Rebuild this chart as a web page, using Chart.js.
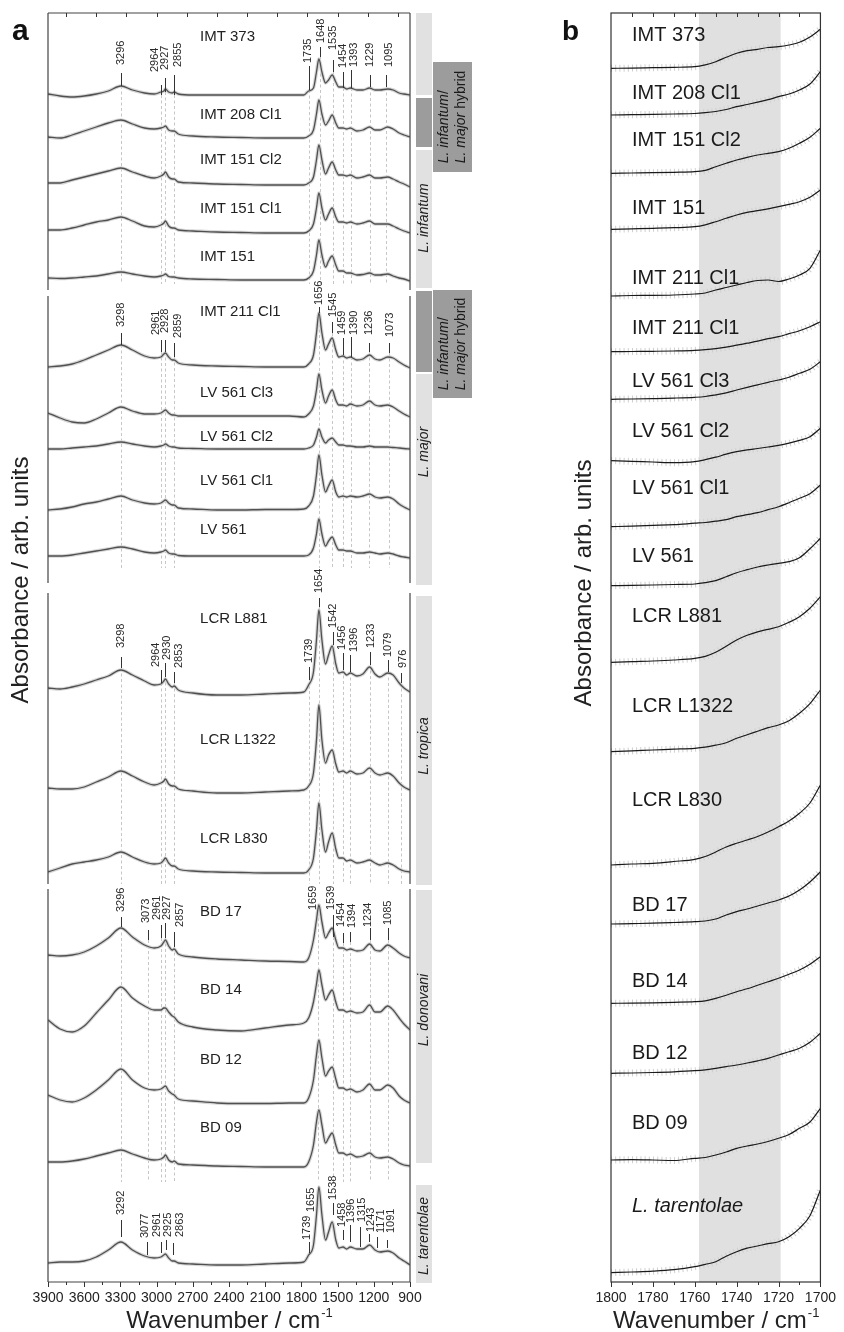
<!DOCTYPE html>
<html><head><meta charset="utf-8">
<script src="https://cdn.jsdelivr.net/npm/chart.js@4.4.1/dist/chart.umd.min.js"></script>
<style>
html,body{margin:0;padding:0;background:#fff;width:844px;height:1332px;overflow:hidden}
#wa{position:absolute;left:0;top:0;width:540px;height:1332px}
#wb{position:absolute;left:540px;top:0;width:304px;height:1332px}
</style></head><body>
<div id="wa"><canvas id="ca"></canvas></div>
<div id="wb"><canvas id="cb"></canvas></div>
<script>
const FONT = '"Liberation Sans", Arial, Helvetica, sans-serif';

// ================= Panel a : data =================
const wavenumbersA = [3900,3800,3700,3600,3500,3400,3296,3200,3100,3020,2964,2940,2927,2900,2870,2855,2820,2700,2500,2300,2100,1900,1780,1740,1700,1675,1655,1630,1600,1575,1545,1515,1490,1455,1425,1395,1340,1290,1235,1190,1150,1085,1040,990,950,900];
const namesA = ['IMT 373','IMT 208 Cl1','IMT 151 Cl2','IMT 151 Cl1','IMT 151','IMT 211 Cl1','LV 561 Cl3','LV 561 Cl2','LV 561 Cl1','LV 561','LCR L881','LCR L1322','LCR L830','BD 17','BD 14','BD 12','BD 09','L. tarentolae'];
const offsetsA = [1187,1144,1097,1049,1002,915,865,833,773,726,590,492,409,320,259,179,115,20];

const a_IMT373   = [1,-1,-2,-1,1,4,9,5,2,1,3,4,6,3,2,3,1,0,0,0,0,0,0,4,7,23,36,23,12,15,20,13,8,8,6,7,5,5,7,5,5,6,5,2,1,0];
const a_IMT208C1 = [1,0,3,7,11,15,18,14,10,9,10,11,12,8,7,7,4,2,1,0.5,0,0,0,2,8,24,38,24,13,17,23,15,10,10,9,10,7,8,11,8,8,11,9,5,3,1];
const a_IMT151C2 = [2,2,5,8,11,14,17,13,9,7,9,11,13,8,6,6,3,2,1,0.5,0,0,0,2,8,25,40,25,11,17,23,15,10,10,9,10,7,8,10,7,7,8,6,3,1,-2];
const a_IMT151C1 = [3,3,5,8,11,13,16,12,7,6,8,10,12,7,5,5,3,2,1,0.5,0,0,0,2,9,25,40,25,13,19,25,16,11,11,10,11,9,10,12,9,9,9,7,4,2,0];
const a_IMT151   = [2,1.5,2,3,4,6,8,6,4,3,4,5,6,3.5,3,3,2,1,0.5,0,0,0,0,2,9,25,40,25,13,19,24,15,9,9,7,7,5,5.5,7,5,5,6,4,2,1,-1];
const a_IMT211C1 = [0,1,3,7,12,17,22,17,11,9,10,13,14,10,7,7,4,2,1,0.5,0,0,0,3,12,34,54,34,17,23,29,17,10,11,9,10,7,8,12,8,7,10,9,5,2,-1];
const a_LV561C3  = [4,-1,-5,-6,-2,4,10,6,3,3,4,6,7,4,2,2,1,1,1,1,1,1,0,3,11,27,43,27,14,21,27,17,12,12,11,13,11,12,16,12,11,12,10,6,3,0];
const a_LV561C2  = [0,0,1,2,3,5,7,5,3,2,3,4,5,3,2,2,1,0.5,0,0,0,0,0,1,4,12,20,12,6,9,11,7,4,4,3,3,2,2,3,2,2,2,1.5,1,0.5,0];
const a_LV561C1  = [-1,0,2,5,7,10,13,9,6,5,6,8,9,6,4,4,1,0,-1,-1,-0.5,-0.5,0,3,13,34,54,34,17,23,29,17,12,13,12,13,12,13,15,12,11,12,10,5,2,-1];
const a_LV561    = [0,0,1,3,5,7,9,7,4,3,4,5,6,3,2,2,0.5,0,0,0,0,0,0,1,8,22,37,22,10,15,19,11,6,6,5,5,3,3,4,3,2,3,2,0,-1,-2];
const a_LCRL881  = [4,3,5,8,12,16,22,17,11,7,8,11,13,8,5,6,2,-1,-3,-3,-2,-1,0,7,20,52,82,52,28,37,46,28,19,20,17,19,16,18,25,18,15,19,17,9,4,0];
const a_LCRL1322 = [2,1,1,3,8,13,19,14,8,5,7,9,11,6,4,4,1,-1,-3,-3,-2,-1,0,4,17,50,85,50,27,35,40,26,18,19,17,19,16,17,22,17,15,17,14,7,3,0];
const a_LCRL830  = [1,5,9,11,13,16,21,16,11,9,10,13,15,10,7,7,4,2,1,0.5,0,0,0,3,15,43,70,43,21,31,40,24,15,15,12,13,10,11,13,10,8,10,8,4,2,1];
const a_BD17     = [7,6,7,10,16,24,34,25,17,14,16,20,22,16,12,13,8,5,3,2,1,0.5,0,4,22,42,57,40,24,29,34,22,14,14,12,13,11,12,18,12,11,17,14,9,6,4];
const a_BD14     = [3,-6,-9,-3,10,23,36,25,17,13,13,15,15,11,7,6,1,-4,-7,-8,-5,-2,0,5,21,39,53,38,23,28,33,21,13,13,11,12,10,11,18,11,11,17,13,5,-1,-7];
const a_BD12     = [8,3,1,5,13,23,34,23,15,13,14,16,17,12,9,8,4,2,0,-0.5,-0.5,0,0,5,23,48,63,45,27,32,36,24,15,15,13,14,11,13,19,13,13,18,15,7,3,0];
const a_BD09     = [5,5,6,8,11,14,17,13,9,7,8,10,12,7,5,6,3,2,1,0.5,0,0,0,5,22,45,57,42,24,29,34,22,14,14,12,13,10,11,14,10,9,10,8,4,2,1];
const a_LTar     = [-1,0,0,1,5,12,20,12,6,4,5,7,8,4,1,1,-1,-2,-3,-3,-2,-1,0,7,17,47,75,47,22,30,40,22,14,15,13,15,13,13,17,12,10,11,9,4,1,-3];
const seriesA = [a_IMT373,a_IMT208C1,a_IMT151C2,a_IMT151C1,a_IMT151,a_IMT211C1,a_LV561C3,a_LV561C2,a_LV561C1,a_LV561,a_LCRL881,a_LCRL1322,a_LCRL830,a_BD17,a_BD14,a_BD12,a_BD09,a_LTar];

const xTickLabelsA = [3900,3600,3300,3000,2700,2400,2100,1800,1500,1200,900];
const topTicksA = [3750,3500,3250,3000,2750,2500,2250,2000,1750,1500,1250,1000];

// annotated band positions per group (cm-1)
const peaks1 = [3296,2964,2927,2855,1735,1648,1535,1454,1393,1229,1095];
const peaks2 = [3298,2961,2928,2859,1656,1545,1459,1390,1236,1073];
const peaks3 = [3298,2964,2930,2853,1739,1654,1542,1456,1396,1233,1079,976];
const peaks4 = [3296,3073,2961,2927,2857,1659,1539,1454,1394,1234,1085];
const peaks5 = [3292,3077,2961,2925,2863,1739,1655,1538,1458,1396,1315,1243,1171,1091];

// ================= Panel b : data =================
const wavenumbersB = [1800,1790,1780,1770,1760,1755,1750,1745,1740,1735,1730,1725,1720,1715,1710,1705,1700];
const namesB = ['IMT 373','IMT 208 Cl1','IMT 151 Cl2','IMT 151','IMT 211 Cl1','IMT 211 Cl1','LV 561 Cl3','LV 561 Cl2','LV 561 Cl1','LV 561','LCR L881','LCR L1322','LCR L830','BD 17','BD 14','BD 12','BD 09','L. tarentolae'];
const offsetsB = [1213.7,1167,1108.7,1052.7,986,930.3,882.7,821.3,755.3,696.3,619.7,530.3,417,358,278.7,208.7,122,9.3];
const b_IMT373   = [0,0.2,0.6,1,1.6,3.5,6.6,11,15,17.6,19,20.8,21.6,23.3,26,31.3,39];
const b_IMT208C1 = [0,0.3,0.6,1,1.5,2.3,3.5,5.5,8.3,10.5,12.8,15.3,18.3,21,25,31,43.3];
const b_IMT151C2 = [0,0.3,0.6,1,1.6,3,6.6,10,13.3,16,18.3,20,21.6,25,30,36,45];
const b_IMT151   = [0,0.5,1,1.6,2.6,4.5,7.6,11,14.3,17,18.6,20.5,22.6,25,27.6,32,39.3];
const b_IMT211C1 = [0,0.5,0.6,1,2,3,6,8.5,11,13.5,15.5,16,14.5,17,21,27.7,46];
const b_IMT211C1b= [0,0.2,0.4,0.7,1.3,2,3,4.5,6.5,8.5,10.5,13,15,18,21,25,30];
const b_LV561C3  = [0,0.3,0.7,1.2,2,2.8,4.5,6.5,9.3,12,14.5,17,19.3,22,26,30,37.6];
const b_LV561C2  = [0,-0.7,-1.3,-2,-1,1,3.5,6.5,9,10.8,12.2,13.7,15.3,17.5,20.3,24,32.4];
const b_LV561C1  = [0,0.6,1.3,2,3.5,4.2,5.5,7,10,12,14,17,20,24,28.4,33,41.7];
const b_LV561    = [0,0.3,0.7,1.2,1.7,3,5,9,13,16,18.7,20.7,22.4,24,28,37,47.4];
const b_LCRL881  = [0,0.7,1.3,2.3,4,6,10,16,22.3,27,30.5,33,35.6,40,45.6,54,65.6];
const b_LCRL1322 = [0,0.8,1.7,2.5,3.4,4.5,6.5,9,13.4,17,20.5,24,26.7,31,38.4,48,61.7];
const b_LCRL830  = [0,1,1.7,3.5,5.7,8.5,13,18,21.7,25,28.5,33,38.3,44,51.7,62,80];
const b_BD17     = [0,0.4,0.8,1.5,2.3,3,5,9,12.3,15,18,21,24,28,34,42,52.3];
const b_BD14     = [0,0.2,0.5,1,1.6,2.5,5,8,11.6,14.5,18,21.5,25,29,33.3,39,46.6];
const b_BD12     = [0,0.3,0.8,1.5,2.6,3.5,5,6.7,8.3,10.3,12.5,15,18.3,21.5,25,31,40];
const b_BD09     = [0,0.3,0,-0.5,1.7,2.5,5,8,11.7,14,16,18.5,21.7,25.5,31.7,38,51.7];
const b_LTar     = [0,0.7,1.5,3,6,8.3,11,16.5,21,24.5,26.7,29,31,36,44.4,57,82.7];
const seriesB = [b_IMT373,b_IMT208C1,b_IMT151C2,b_IMT151,b_IMT211C1,b_IMT211C1b,b_LV561C3,b_LV561C2,b_LV561C1,b_LV561,b_LCRL881,b_LCRL1322,b_LCRL830,b_BD17,b_BD14,b_BD12,b_BD09,b_LTar];
const xTickLabelsB = [1800,1780,1760,1740,1720,1700];
const highlightB = [1758,1719];

// ================= layout (positions / styles) =================
const nameAnchorA = 2640, nameAnchorB = 1790;
const nameYA = [37,115,160,209,257,312,393,437,481,530,619,740,839,912,990,1060,1128,null];
const nameYB = [35,93,140,208,278,328,381.7,431.7,488.3,556.7,616.7,706.7,800,905,981.7,1053.3,1123.3,1206.7];
// per peak: [dx, textBottomY, tickTopY, tickBottomY]
const peakLayout = [
 {peaks:peaks1, bottom:284, pos:[[0,65,73,86],[-6,72,85,95],[0,70,78,92],[4,67,75,95],[-1,63,66,90],[1,43,47,57],[0,50,60,72],[0,68,72,88],[3.5,67,70,88],[0,67,75,87],[2,67,75,87]]},
 {peaks:peaks2, bottom:568, pos:[[0,327,333,345],[-5,335,340,352],[0,333,340,352],[4,338,343,357],[0,305,307,313],[1,317,322,333],[-1,335,338,355],[3,335,337,357],[0,335,343,352],[1,337,343,353]]},
 {peaks:peaks3, bottom:884, pos:[[0,648,657,668],[-5,667,670,683],[1.5,660,663,677],[4.5,668,672,683],[0,663,667,680],[0,593,598,607],[0,628,632,645],[-1,650,653,670],[4,652,655,672],[1,648,652,665],[0,657,660,672],[2,668,673,683]]},
 {peaks:peaks4, bottom:1182, pos:[[0,912,917,927],[-2,923,930,940],[-4,920,925,938],[1.5,920,923,938],[6,927,932,947],[-5,910,907,907],[-2,910,915,937],[-2,927,933,943],[2,928,932,942],[-1.5,927,928,940],[0,925,928,940]]},
 {peaks:peaks5, bottom:null, pos:[[0,1215,1220,1237],[-2,1238,1242,1255],[-4,1237,1242,1253],[2,1237,1240,1250],[7,1237,1243,1255],[-2,1240,1242,1253],[-8,1212,null,null],[0,1200,1203,1215],[-1,1227,1230,1240],[1,1223,1225,1242],[2,1222,1227,1247],[2.5,1232,1234,1242],[4,1233,1237,1248],[4.5,1233,1240,1248]]}
];
const frameSegA = [[13,290],[296,583],[593,884],[889,1282]];
const LIGHT = '#e1e1e1', DARK = '#9c9c9c';
const boxesA = [
 [416,432,13,95,LIGHT],
 [416,432,98,147,DARK],[433,472,62,172,DARK],
 [416,432,150,288,LIGHT],
 [416,432,291,372,DARK],[433,472,290,398,DARK],
 [416,432,374,585,LIGHT],
 [416,432,596,885,LIGHT],
 [416,432,890,1163,LIGHT],
 [416,432,1185,1283,LIGHT]
];
const speciesA = [
 [[['L. infantum',true]],424,218],
 [[['L. major',true]],424,452],
 [[['L. tropica',true]],424,746],
 [[['L. donovani',true]],424,1010],
 [[['L. tarentolae',true]],424,1236]
];
const hybridA = [[62,172],[290,398]];

// ================= helpers =================
function rotText(ctx, parts, x, y, size, align, color){
  ctx.save();
  ctx.translate(x,y); ctx.rotate(-Math.PI/2);
  ctx.fillStyle = color || '#222';
  ctx.textBaseline='middle'; ctx.textAlign='left';
  let total=0;
  parts.forEach(p=>{ctx.font=(p[1]?'italic ':'')+size+'px '+FONT; total+=ctx.measureText(p[0]).width;});
  let pos = align==='center' ? -total/2 : 0;
  parts.forEach(p=>{ctx.font=(p[1]?'italic ':'')+size+'px '+FONT; ctx.fillText(p[0],pos,0); pos+=ctx.measureText(p[0]).width;});
  ctx.restore();
  return total;
}
function partsWidth(ctx, parts, size){
  let t=0; parts.forEach(p=>{ctx.font=(p[1]?'italic ':'')+size+'px '+FONT; t+=ctx.measureText(p[0]).width;}); return t;
}
function xTitle(ctx, cx, baseY){
  ctx.save(); ctx.fillStyle='#222'; ctx.textBaseline='alphabetic'; ctx.textAlign='left';
  const main='Wavenumber / cm', sup='-1';
  ctx.font='24px '+FONT; const w1=ctx.measureText(main).width;
  ctx.font='13px '+FONT; const w2=ctx.measureText(sup).width;
  const x0=cx-(w1+w2)/2;
  ctx.font='24px '+FONT; ctx.fillText(main,x0,baseY);
  ctx.font='13px '+FONT; ctx.fillText(sup,x0+w1+1,baseY-11);
  ctx.restore();
}
function drawTicks(ctx, x, ca, from, to, step, majorEvery, topVals, topLen){
  ctx.save(); ctx.strokeStyle='#333'; ctx.lineWidth=1; ctx.beginPath();
  for(let v=from; v<=to+1e-6; v+=step){
    const px=Math.round(x.getPixelForValue(v))+0.5;
    const len = (Math.abs(v % majorEvery) < 1e-6) ? 5 : 3;
    ctx.moveTo(px, ca.bottom); ctx.lineTo(px, ca.bottom+len);
  }
  topVals.forEach(v=>{const px=Math.round(x.getPixelForValue(v))+0.5; ctx.moveTo(px,ca.top); ctx.lineTo(px,ca.top+topLen);});
  ctx.stroke(); ctx.restore();
}

// ================= panel a plugin =================
const panelA = {
  id:'panelA',
  beforeDatasetsDraw(chart){
    const {ctx, scales:{x}} = chart;
    ctx.save(); ctx.strokeStyle='#b8b8b8'; ctx.lineWidth=0.8; ctx.setLineDash([3,2.5]);
    peakLayout.forEach(g=>{
      if(g.bottom==null) return;
      g.peaks.forEach((w,i)=>{
        const p=g.pos[i]; const px=Math.round(x.getPixelForValue(w))+0.5;
        const y0 = p[3]!=null ? p[3] : p[1];
        ctx.beginPath(); ctx.moveTo(px,y0); ctx.lineTo(px,g.bottom); ctx.stroke();
      });
    });
    ctx.restore();
  },
  afterDatasetsDraw(chart){
    const {ctx, chartArea:ca, scales:{x}} = chart;
    ctx.save(); ctx.strokeStyle='#444'; ctx.lineWidth=1.2;
    ctx.beginPath();
    frameSegA.forEach(s=>{ ctx.moveTo(ca.left,s[0]); ctx.lineTo(ca.left,s[1]); ctx.moveTo(ca.right,s[0]); ctx.lineTo(ca.right,s[1]); });
    ctx.moveTo(ca.left,ca.top); ctx.lineTo(ca.right,ca.top);
    ctx.moveTo(ca.left,ca.bottom); ctx.lineTo(ca.right,ca.bottom);
    ctx.stroke(); ctx.restore();
    drawTicks(ctx, x, ca, 900, 3900, 150, 300, topTicksA, 4);
    ctx.save(); ctx.strokeStyle='#333'; ctx.lineWidth=1;
    peakLayout.forEach(g=>{
      g.peaks.forEach((w,i)=>{
        const p=g.pos[i]; const px=x.getPixelForValue(w);
        rotText(ctx, [[String(w),false]], px+p[0], p[1], 11, 'left', '#2a2a2a');
        if(p[2]!=null && p[3]>p[2]){ ctx.beginPath(); ctx.moveTo(Math.round(px)+0.5,p[2]); ctx.lineTo(Math.round(px)+0.5,p[3]); ctx.stroke(); }
      });
    });
    ctx.restore();
    ctx.save(); ctx.fillStyle='#222'; ctx.font='15px '+FONT; ctx.textBaseline='middle'; ctx.textAlign='left';
    const nx = x.getPixelForValue(nameAnchorA);
    namesA.forEach((n,i)=>{ if(nameYA[i]!=null) ctx.fillText(n, nx, nameYA[i]); });
    ctx.restore();
    ctx.save();
    boxesA.forEach(b=>{ ctx.fillStyle=b[4]; ctx.fillRect(b[0],b[2],b[1]-b[0],b[3]-b[2]); });
    ctx.restore();
    speciesA.forEach(s=>rotText(ctx, s[0], s[1], s[2], 14, 'center', '#222'));
    hybridA.forEach(h=>{
      const l1=[['L. infantum',true],['/',false]], l2=[['L. major',true],[' hybrid',false]];
      const w2=partsWidth(ctx,l2,14); const c=(h[0]+h[1])/2; const start=c+w2/2;
      rotText(ctx,l1,444,start,14,'left','#1a1a1a');
      rotText(ctx,l2,461,start,14,'left','#1a1a1a');
    });
    xTitle(ctx,(ca.left+ca.right)/2,1328);
    rotText(ctx,[['Absorbance / arb. units',false]],21,580,24,'center','#222');
    ctx.save(); ctx.fillStyle='#111'; ctx.font='bold 30px '+FONT; ctx.textBaseline='alphabetic'; ctx.fillText('a',12,40); ctx.restore();
  }
};

// ================= panel b plugin =================
const panelB = {
  id:'panelB',
  beforeDatasetsDraw(chart){
    const {ctx, chartArea:ca, scales:{x}} = chart;
    const x0=x.getPixelForValue(highlightB[0]), x1=x.getPixelForValue(highlightB[1]);
    ctx.save(); ctx.fillStyle='#e0e0e0'; ctx.fillRect(x0,ca.top,x1-x0,ca.bottom-ca.top); ctx.restore();
  },
  afterDatasetsDraw(chart){
    const {ctx, chartArea:ca, scales:{x}} = chart;
    ctx.save(); ctx.strokeStyle='#333'; ctx.lineWidth=1.2;
    ctx.strokeRect(ca.left,ca.top,ca.right-ca.left,ca.bottom-ca.top);
    ctx.restore();
    const top=[]; for(let v=1790; v>=1710; v-=10) top.push(v);
    drawTicks(ctx, x, ca, 1700, 1800, 10, 20, top, 4);
    ctx.save(); ctx.fillStyle='#1a1a1a'; ctx.textBaseline='middle'; ctx.textAlign='left';
    const nx=x.getPixelForValue(nameAnchorB);
    namesB.forEach((n,i)=>{ ctx.font=(n.startsWith('L.')?'italic ':'')+'20px '+FONT; ctx.fillText(n,nx,nameYB[i]); });
    ctx.restore();
    xTitle(ctx,(ca.left+ca.right)/2,1328);
    rotText(ctx,[['Absorbance / arb. units',false]],44,583,24,'center','#222');
    ctx.save(); ctx.fillStyle='#111'; ctx.font='bold 28px '+FONT; ctx.textBaseline='alphabetic'; ctx.fillText('b',22,40); ctx.restore();
  }
};

// ================= datasets =================
const dsA=[];
seriesA.forEach((vals,i)=>{
  const mk=()=>wavenumbersA.map((w,k)=>({x:w,y:offsetsA[i]+vals[k]}));
  dsA.push({label:namesA[i],data:mk(),borderColor:'#505050',borderWidth:1.3,order:0,pointRadius:0,fill:false});
  dsA.push({label:namesA[i]+' SD',data:mk(),borderColor:'#d6d6d6',borderWidth:3.5,order:1,pointRadius:0,fill:false});
});
const dsB=[];
seriesB.forEach((vals,i)=>{
  const mk=()=>wavenumbersB.map((w,k)=>({x:w,y:offsetsB[i]+vals[k]}));
  dsB.push({label:namesB[i],data:mk(),borderColor:'#1a1a1a',borderWidth:1.2,order:0,pointRadius:0,fill:false});
  dsB.push({label:namesB[i]+' SD',data:mk(),borderColor:'#cfcfcf',borderWidth:7,borderDash:[1,3.2],order:1,pointRadius:0,fill:false});
});

function baseOptions(min,max,ticks,pad){
  return {
    responsive:true, maintainAspectRatio:false, animation:false, devicePixelRatio:1,
    layout:{padding:pad},
    plugins:{legend:{display:false},tooltip:{enabled:false}},
    elements:{point:{radius:0},line:{cubicInterpolationMode:'monotone'}},
    scales:{
      x:{type:'linear',reverse:true,min:min,max:max,
         grid:{display:false,drawTicks:false},border:{display:false},
         afterBuildTicks:s=>{s.ticks=ticks.map(v=>({value:v}));},
         ticks:{autoSkip:false,maxRotation:0,minRotation:0,padding:8,color:'#222',font:{size:14,family:FONT},
                callback:v=>String(v)},
         afterFit:s=>{s.height=50;}},
      y:{display:false,min:0,max:1269}
    }
  };
}
new Chart(document.getElementById('ca'),{type:'line',data:{datasets:dsA},
  options:baseOptions(900,3900,xTickLabelsA,{left:48,right:130,top:13,bottom:0}),plugins:[panelA]});
new Chart(document.getElementById('cb'),{type:'line',data:{datasets:dsB},
  options:baseOptions(1700,1800,xTickLabelsB,{left:71,right:16,top:13,bottom:0}),plugins:[panelB]});
</script></body></html>
